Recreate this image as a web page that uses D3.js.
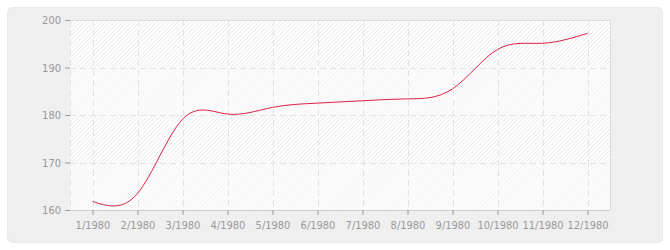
<!DOCTYPE html>
<html><head><meta charset="utf-8">
<script src="https://cdn.jsdelivr.net/npm/d3@7"></script>
<style>body{margin:0;background:#fff;}svg{display:block;}</style>
</head><body>
<script>
const categories = ["1/1980","2/1980","3/1980","4/1980","5/1980","6/1980","7/1980","8/1980","9/1980","10/1980","11/1980","12/1980"];
const values = [161.8,163.5,179.1,180.2,181.6,182.5,183.0,183.4,185.5,193.8,195.1,197.2];
const yTicks = [160,170,180,190,200];

const W=670,H=250;
const svg=d3.select("body").append("svg").attr("width",W).attr("height",H);
const defs=svg.append("defs");
const pat=defs.append("pattern").attr("id","hatch").attr("patternUnits","userSpaceOnUse")
  .attr("width",3).attr("height",3).attr("patternTransform","rotate(45)");
pat.append("rect").attr("width",3).attr("height",3).attr("fill","#ffffff");
pat.append("line").attr("x1",0.5).attr("y1",0).attr("x2",0.5).attr("y2",3).attr("stroke","#ececec").attr("stroke-width",1);

svg.append("rect").attr("x",7.5).attr("y",7.5).attr("width",655).attr("height",235).attr("rx",5)
  .attr("fill","#efefef").attr("stroke","#e9e9e9");

const L=70,R=610,T=20,B=210;
const x=d3.scalePoint().domain(categories).range([L,R]).padding(0.5);
const y=d3.scaleLinear().domain([160,200]).range([B,T]);

svg.append("rect").attr("x",L).attr("y",T).attr("width",R-L).attr("height",B-T).attr("fill","url(#hatch)");
// lighter alternating bands
for(let i=0;i<yTicks.length-1;i++){
  if(i%2===0){
    svg.append("rect").attr("x",L).attr("y",y(yTicks[i+1])).attr("width",R-L)
      .attr("height",y(yTicks[i])-y(yTicks[i+1])).attr("fill","#fafafa").attr("fill-opacity",0.6);
  }
}
// grid
const g=svg.append("g");
g.selectAll(".hg").data(yTicks.slice(1,-1)).join("line")
  .attr("x1",L).attr("x2",R).attr("y1",d=>Math.round(y(d))+0.5).attr("y2",d=>Math.round(y(d))+0.5)
  .attr("stroke","#e2e2e2").attr("stroke-dasharray","6,4");
g.selectAll(".vg").data(categories).join("line")
  .attr("y1",T).attr("y2",B).attr("x1",d=>Math.round(x(d))+0.5).attr("x2",d=>Math.round(x(d))+0.5)
  .attr("stroke","#e2e2e2").attr("stroke-dasharray","6,4");
// left dashed border
svg.append("line").attr("x1",L+0.5).attr("x2",L+0.5).attr("y1",T).attr("y2",B).attr("stroke","#e2e2e2").attr("stroke-dasharray","6,4");
// top & right border
svg.append("path").attr("d",`M${L},${T+0.5}H${R+0.5}V${B}`).attr("fill","none").attr("stroke","#dcdcdc");

// axes
const yAxis=svg.append("g").attr("transform",`translate(${L},0)`)
  .call(d3.axisLeft(y).tickValues(yTicks).tickSize(5).tickPadding(4));
const xAxis=svg.append("g").attr("transform",`translate(0,${B})`)
  .call(d3.axisBottom(x).tickSize(5).tickPadding(6));
[yAxis,xAxis].forEach(a=>{
  a.selectAll("text").attr("fill","#999").style("font-family","'DejaVu Sans Condensed', 'DejaVu Sans', sans-serif").style("font-size","11px");
  a.selectAll(".tick line").attr("stroke","#999");
  a.select(".domain").attr("stroke","#cccccc");
});
yAxis.select(".domain").remove();
xAxis.select(".domain").attr("d",`M${L},0.5H${R}`);

const line=d3.line().x((d,i)=>x(categories[i])).y(d=>y(d)).curve(d3.curveNatural);
svg.append("path").datum(values).attr("d",line).attr("fill","none").attr("stroke","#dd2244").attr("stroke-width",1);
</script>
</body></html>
